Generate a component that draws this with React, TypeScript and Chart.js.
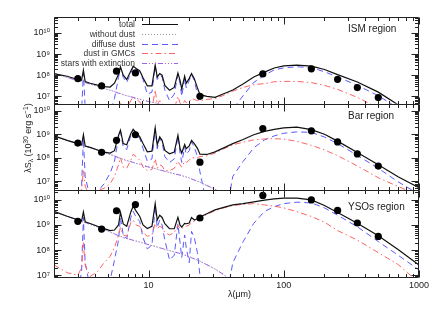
import React, { useEffect, useRef } from 'react';
import { Chart, registerables } from 'chart.js';

Chart.register(...registerables);

// wavelength grid (micron)
const LAMBDA = [2, 2.5, 3, 3.2, 3.3, 3.4, 3.7, 4.2, 4.7, 5.2, 5.6, 6.0, 6.2, 6.5, 6.9, 7.4, 7.7, 8.1, 8.6, 9.1, 9.8, 10.6, 11.2, 11.6, 12.1, 12.6, 13.2, 14.3, 15.5, 16.5, 17.1, 17.6, 18.5, 19.0, 20.0, 20.8, 21.8, 23, 24, 27, 31, 36, 42, 50, 60, 72, 85, 100, 125, 160, 200, 250, 350, 500, 700, 1000];
const OBS_LAMBDA = [3.0, 4.5, 5.8, 8.0, 24, 70, 160, 250, 350, 500];

// ISM region
const ISM_TOTAL = [
  1.2e8, 8.9e7, 6.3e7, 5.75e7, 1.74e8, 5.0e7, 4.17e7,
  3.39e7, 2.88e7, 2.75e7, 4.17e7, 1.12e8, 2.51e8, 1.0e8, 6.3e7,
  1.58e8, 2.69e8, 2.09e8, 1.66e8, 7.6e7, 3.16e7, 3.16e7,
  3.02e8, 8.3e7, 1.2e8, 1.0e8, 3.31e7, 1.95e7, 2.63e7,
  1.26e8, 5.75e7, 2.24e7, 8.9e7, 4.17e7, 7.1e7, 1.2e8,
  6.9e7, 2.51e7, 1.2e7, 1.0e7, 8.9e6, 1.32e7, 2.0e7,
  3.8e7, 8.3e7, 1.4e8, 2.2e8, 2.75e8, 3.02e8, 2.69e8,
  1.86e8, 1.07e8, 4.8e7, 1.58e7, 4.0e6, 7.9e5,
];
const ISM_DIFFUSE = [
  1e5, 1e5, 3.2e5, 2.0e6, 1.26e8, 3.2e6, 3.2e5,
  3.2e5, 6.3e5, 2.0e6, 7.9e6, 7.9e7, 2.34e8, 7.9e7, 4.5e7,
  1.26e8, 2.51e8, 1.91e8, 1.51e8, 6.3e7, 1.26e7, 1.58e7,
  2.82e8, 6.3e7, 1.0e8, 8.3e7, 2.0e7, 6.3e6, 1.26e7,
  1.12e8, 4.0e7, 1.0e7, 7.1e7, 2.51e7, 5.6e7, 1.07e8,
  5.6e7, 1.26e7, 3.2e6, 3.2e5, 1e5, 1e5, 2.5e6,
  1.07e7, 4.57e7, 1.0e8, 1.78e8, 2.24e8, 2.51e8, 2.29e8,
  1.45e8, 8.3e7, 3.31e7, 1.07e7, 2.8e6, 5.0e5,
];
const ISM_GMC = [
  1e5, 1e5, 1e5, 3.2e5, 2.0e6, 3.2e5, 1e5,
  1e5, 1.6e5, 3.2e5, 7.9e5, 2.0e6, 5.0e6, 2.5e6, 2.5e6,
  6.3e6, 9.3e6, 7.1e6, 5.6e6, 3.2e6, 2.0e6, 2.5e6,
  2.0e7, 4.0e6, 6.3e6, 5.0e6, 2.5e6, 2.0e6, 2.5e6,
  1.0e7, 5.0e6, 3.2e6, 6.3e6, 5.0e6, 5.6e6, 7.9e6,
  7.1e6, 6.3e6, 6.3e6, 7.1e6, 7.9e6, 1.12e7, 1.78e7,
  2.63e7, 3.55e7, 4.0e7, 4.9e7, 5.1e7, 5.1e7, 4.47e7,
  3.31e7, 2.14e7, 8.9e6, 2.8e6, 7.9e5, 2.0e5,
];
const ISM_STARS = [
  1.2e8, 7.8e7, 5.6e7, 4.9e7, 4.7e7, 4.5e7, 3.8e7,
  2.95e7, 2.34e7, 1.95e7, 1.7e7, 1.41e7, 1.35e7, 1.2e7, 1.07e7,
  9.5e6, 8.9e6, 8.1e6, 7.4e6, 6.6e6, 5.9e6, 5.2e6,
  4.9e6, 4.6e6, 4.3e6, 4.1e6, 3.7e6, 3.3e6, 2.95e6,
  2.7e6, 2.5e6, 2.4e6, 2.2e6, 2.1e6, 1.9e6, 1.78e6,
  1.62e6, 1.45e6, 1.32e6, 9.5e5, 6.3e5, 4.0e5, 2.2e5,
];
const ISM_OBS = [6.9e7, 3.1e7, 1.55e8, 1.29e8, 1.0e7, 1.15e8, 2.0e8, 6.4e7, 2.6e7, 8.7e6];

// Bar region
const BAR_TOTAL = [
  8.5e8, 5.5e8, 4.0e8, 3.47e8, 9.5e8, 3.16e8, 2.75e8,
  2.14e8, 1.74e8, 1.58e8, 2.0e8, 8.9e8, 1.48e9, 4.0e8, 3.55e8,
  1.07e9, 1.62e9, 1.17e9, 7.9e8, 4.0e8, 1.78e8, 1.9e8,
  1.86e9, 3.55e8, 7.8e8, 5.5e8, 2.04e8, 1.48e8, 1.74e8,
  9.1e8, 2.51e8, 1.58e8, 3.63e8, 2.4e8, 3.16e8, 5.5e8,
  4.0e8, 2.51e8, 1.41e8, 1.38e8, 1.78e8, 2.63e8, 4.0e8,
  6.0e8, 9.5e8, 1.32e9, 1.62e9, 1.86e9, 2.0e9, 1.58e9,
  1.0e9, 5.1e8, 1.66e8, 5.0e7, 1.55e7, 5.3e6,
];
const BAR_DIFFUSE = [
  1e5, 1e5, 3.2e5, 6.3e6, 6.3e8, 1.58e7, 2.0e6,
  3.55e6, 7.9e6, 2.19e7, 7.1e7, 7.1e8, 1.32e9, 2.82e8, 2.24e8,
  8.9e8, 1.48e9, 1.05e9, 6.8e8, 2.51e8, 7.1e7, 8.9e7,
  1.74e9, 2.4e8, 6.6e8, 4.47e8, 1.12e8, 6.3e7, 8.9e7,
  8.3e8, 1.58e8, 6.3e7, 2.82e8, 1.41e8, 2.0e8, 4.8e8,
  2.82e8, 1.12e8, 2.51e7, 1e6, 1e5, 1e5, 1.62e7,
  6.9e7, 2.63e8, 5.75e8, 8.5e8, 1.1e9, 1.26e9, 1.2e9,
  7.6e8, 4.0e8, 1.26e8, 3.55e7, 9.5e6, 2.8e6,
];
const BAR_GMC = [
  3.2e5, 3.2e5, 6.3e5, 4.0e6, 3.16e7, 6.3e6, 2.0e6,
  4.0e6, 5.0e6, 7.9e6, 1.58e7, 5.0e7, 1.0e8, 4.0e7, 3.55e7,
  7.9e7, 1.41e8, 1.12e8, 7.9e7, 4.0e7, 2.82e7, 3.16e7,
  8.9e7, 3.55e7, 5.0e7, 4.47e7, 2.82e7, 2.82e7, 3.55e7,
  7.1e7, 5.0e7, 4.0e7, 7.1e7, 6.3e7, 7.9e7, 1.0e8,
  1.0e8, 1.0e8, 1.12e8, 1.2e8, 1.58e8, 2.4e8, 3.55e8,
  4.57e8, 5.75e8, 6.3e8, 6.5e8, 6.2e8, 5.0e8, 3.39e8,
  2.14e8, 1.23e8, 4.47e7, 1.41e7, 6.0e6, 2.5e6,
];
const BAR_STARS = [
  8.5e8, 5.5e8, 4.0e8, 3.47e8, 3.31e8, 3.16e8, 2.69e8,
  2.09e8, 1.66e8, 1.38e8, 1.2e8, 1.0e8, 9.5e7, 8.5e7, 7.6e7,
  6.8e7, 6.3e7, 5.75e7, 5.25e7, 4.68e7, 4.17e7, 3.72e7,
  3.47e7, 3.24e7, 3.02e7, 2.88e7, 2.63e7, 2.34e7, 2.09e7,
  1.91e7, 1.82e7, 1.74e7, 1.58e7, 1.51e7, 1.38e7, 1.26e7,
  1.12e7, 1.0e7, 9.1e6, 6.6e6, 4.57e6, 2.82e6, 1.58e6,
];
const BAR_OBS = [4.2e8, 1.7e8, 5.5e8, 9.5e8, 6.5e7, 1.74e9, 1.4e9, 4.7e8, 1.45e8, 4.4e7];

// YSOs region
const YSO_TOTAL = [
  3.47e9, 2.24e9, 1.62e9, 1.45e9, 3.31e9, 1.35e9, 1.15e9,
  8.9e8, 7.2e8, 6.0e8, 6.3e8, 1.0e9, 3.16e9, 1.1e9, 8.9e8,
  3.31e9, 5.6e9, 3.55e9, 2.24e9, 1.0e9, 7.2e8, 8.9e8,
  7.1e9, 1.58e9, 2.45e9, 2.0e9, 1.12e9, 7.2e8, 7.1e8,
  2.0e9, 9.8e8, 8.3e8, 1.15e9, 1.12e9, 1.2e9, 2.0e9,
  1.58e9, 1.78e9, 2.09e9, 2.82e9, 4.0e9, 5.0e9, 6.3e9,
  7.1e9, 8.3e9, 9.8e9, 1.1e10, 1.17e10, 1.17e10, 1.0e10,
  6.0e9, 3.16e9, 1.17e9, 3.72e8, 1.05e8, 2.57e7,
];
const YSO_DIFFUSE = [
  1e5, 1e5, 1e6, 1.58e7, 2.0e9, 3.16e7, 3.16e6,
  3.2e5, 1e6, 6.3e6, 4.0e7, 2.51e8, 2.0e9, 4.0e8, 2.82e8,
  2.0e9, 3.55e9, 2.0e9, 1.41e9, 3.16e8, 1.12e8, 1.58e8,
  5.6e9, 7.9e8, 1.58e9, 1.0e9, 2.51e8, 4.0e7, 6.3e7,
  1.12e9, 2.0e8, 5.0e7, 4.0e8, 1.26e8, 3.16e7, 5.6e8,
  3.16e8, 7.9e7, 1.0e7, 1.0e6, 3.2e5, 3.2e5, 3.16e7,
  2.14e8, 1.17e9, 3.47e9, 5.4e9, 7.1e9, 8.1e9, 7.6e9,
  4.8e9, 2.45e9, 8.5e8, 2.19e8, 6.3e7, 1.62e7,
];
const YSO_GMC = [
  2.57e7, 1.26e7, 1.0e7, 2.0e7, 2.0e8, 2.51e7, 8.9e6,
  1.41e7, 3.16e7, 5.6e7, 1.26e8, 4.0e8, 7.9e8, 4.0e8, 3.55e8,
  1.26e9, 1.58e9, 1.0e9, 8.9e8, 5.0e8, 3.55e8, 4.0e8,
  1.15e9, 7.1e8, 8.9e8, 7.9e8, 5.0e8, 4.0e8, 5.0e8,
  9.8e8, 7.1e8, 7.1e8, 8.9e8, 8.9e8, 1.0e9, 1.26e9,
  1.41e9, 1.66e9, 1.91e9, 2.63e9, 3.72e9, 4.8e9, 6.0e9,
  6.6e9, 7.1e9, 6.3e9, 5.6e9, 4.8e9, 3.39e9, 2.19e9,
  1.29e9, 6.0e8, 2.51e8, 7.9e7, 2.69e7, 5.0e6,
];
const YSO_STARS = [
  3.39e9, 2.19e9, 1.58e9, 1.38e9, 1.32e9, 1.26e9, 1.07e9,
  8.3e8, 6.6e8, 5.25e8, 4.47e8, 3.72e8, 3.55e8, 3.16e8, 2.88e8,
  2.63e8, 2.45e8, 2.29e8, 2.09e8, 1.91e8, 1.7e8, 1.51e8,
  1.41e8, 1.32e8, 1.23e8, 1.17e8, 1.07e8, 9.5e7, 8.5e7,
  7.8e7, 7.2e7, 6.9e7, 6.3e7, 6.0e7, 5.5e7, 5.0e7,
  4.47e7, 4.0e7, 3.63e7, 2.63e7, 1.78e7, 1.05e7, 5.6e6,
];
const YSO_OBS = [1.4e9, 6.9e8, 3.7e9, 6.5e9, 1.9e9, 1.5e10, 1.0e10, 3.8e9, 1.2e9, 3.5e8];

const PANELS = [
  { axis: 'yTop', label: 'ISM region', labelDy: 12, weight: 3, min: 4.5e6, max: 5.7e10, total: ISM_TOTAL, diffuse: ISM_DIFFUSE, gmc: ISM_GMC, stars: ISM_STARS, obs: ISM_OBS },
  { axis: 'yMid', label: 'Bar region', labelDy: 13, weight: 2, min: 4.1e6, max: 2.0e10, total: BAR_TOTAL, diffuse: BAR_DIFFUSE, gmc: BAR_GMC, stars: BAR_STARS, obs: BAR_OBS },
  { axis: 'yBot', label: 'YSOs region', labelDy: 17, weight: 1, min: 8.5e6, max: 2.4e10, total: YSO_TOTAL, diffuse: YSO_DIFFUSE, gmc: YSO_GMC, stars: YSO_STARS, obs: YSO_OBS },
];

const FONT = "'Liberation Sans', 'DejaVu Sans', sans-serif";

const STYLES: Record<string, { borderColor: string; borderWidth: number; borderDash: number[] }> = {
  total: { borderColor: '#111111', borderWidth: 1.2, borderDash: [] },
  nodust: { borderColor: '#999999', borderWidth: 1, borderDash: [1, 2] },
  diffuse: { borderColor: 'rgb(90,90,255)', borderWidth: 1, borderDash: [6, 4] },
  gmc: { borderColor: 'rgb(255,100,100)', borderWidth: 1, borderDash: [6, 3, 1.5, 3] },
  stars: { borderColor: 'rgb(160,100,235)', borderWidth: 1, borderDash: [5, 2, 1, 2, 1, 2, 1, 2] },
};

const LEGEND = [
  { text: 'total', key: 'total' },
  { text: 'without dust', key: 'nodust' },
  { text: 'diffuse dust', key: 'diffuse' },
  { text: 'dust in GMCs', key: 'gmc' },
  { text: 'stars with extinction', key: 'stars' },
];

const SUP: Record<string, string> = { '0': '⁰', '1': '¹', '2': '²', '3': '³', '4': '⁴', '5': '⁵', '6': '⁶', '7': '⁷', '8': '⁸', '9': '⁹', '-': '⁻' };
const sup = (n: number) => String(n).split('').map((c) => SUP[c] || c).join('');
const decade = (v: number) => {
  const e = Math.log10(v);
  return Math.abs(e - Math.round(e)) < 1e-6 ? Math.round(e) : null;
};

const pts = (ys: number[]) => ys.map((y, i) => ({ x: LAMBDA[i], y }));
const obsPts = (ys: number[]) => ys.map((y, i) => ({ x: OBS_LAMBDA[i], y }));

const lineDs = (label: string, data: any[], axis: string, key: string) => ({
  label,
  data,
  yAxisID: axis,
  borderColor: STYLES[key].borderColor,
  borderWidth: STYLES[key].borderWidth,
  borderDash: STYLES[key].borderDash,
  pointRadius: 0,
  fill: false,
  tension: 0,
});

const decorPlugin = {
  id: 'decor',
  afterDraw(chart: any) {
    const ctx = chart.ctx as CanvasRenderingContext2D;
    const { left, right } = chart.chartArea;
    const xs = chart.scales.x;
    ctx.save();
    ctx.strokeStyle = '#222';
    ctx.lineWidth = 1;
    ctx.setLineDash([]);
    const l = Math.round(left) + 0.5;
    const r = Math.round(right) - 0.5;
    for (const p of PANELS) {
      const ys = chart.scales[p.axis];
      const t = Math.round(ys.top) + 0.5;
      const b = Math.round(ys.bottom) + 0.5;
      ctx.beginPath();
      ctx.rect(l, t, r - l, b - t);
      const e0 = Math.floor(Math.log10(ys.min));
      const e1 = Math.ceil(Math.log10(ys.max));
      for (let e = e0; e <= e1; e++) {
        for (let m = 1; m <= 9; m++) {
          const v = m * Math.pow(10, e);
          if (v < ys.min || v > ys.max) continue;
          const y = Math.round(ys.getPixelForValue(v)) + 0.5;
          const len = m === 1 ? 7 : 3.5;
          ctx.moveTo(l, y);
          ctx.lineTo(l + len, y);
          ctx.moveTo(r, y);
          ctx.lineTo(r - len, y);
        }
      }
      for (let e = 0; e <= 3; e++) {
        for (let m = 1; m <= 9; m++) {
          const v = m * Math.pow(10, e);
          if (v < xs.min || v > xs.max) continue;
          const x = Math.round(xs.getPixelForValue(v)) + 0.5;
          const len = m === 1 ? 7 : 3.5;
          ctx.moveTo(x, t);
          ctx.lineTo(x, t + len);
          ctx.moveTo(x, b);
          ctx.lineTo(x, b - len);
        }
      }
      ctx.stroke();
      ctx.fillStyle = '#222';
      ctx.font = `10px ${FONT}`;
      ctx.textAlign = 'left';
      ctx.textBaseline = 'middle';
      ctx.fillText(p.label, right - 71, ys.top + p.labelDy);
    }

    // legend in the top panel
    const yTop = chart.scales[PANELS[0].axis].top;
    ctx.font = `8.5px ${FONT}`;
    ctx.textAlign = 'right';
    ctx.textBaseline = 'middle';
    LEGEND.forEach((it, i) => {
      const y = Math.round(yTop + 7 + i * 9.75) + 0.5;
      const st = STYLES[it.key];
      ctx.fillStyle = '#333';
      ctx.fillText(it.text, left + 81, y);
      ctx.beginPath();
      ctx.setLineDash(st.borderDash);
      ctx.strokeStyle = st.borderColor;
      ctx.lineWidth = st.borderWidth;
      ctx.moveTo(left + 88, y);
      ctx.lineTo(left + 124, y);
      ctx.stroke();
    });
    ctx.setLineDash([]);

    // x title
    ctx.fillStyle = '#222';
    ctx.font = `9px ${FONT}`;
    ctx.textAlign = 'center';
    ctx.textBaseline = 'middle';
    ctx.fillText('λ(μm)', (left + right) / 2 + 3, 295);

    // y title (rotated, with sub/superscripts)
    const parts: [string, number, number][] = [
      ['λS', 9, 0],
      ['λ', 6.5, 2],
      [' (10', 9, 0],
      ['30', 6.5, -3.5],
      [' erg s', 9, 0],
      ['−1', 6.5, -3.5],
      [')', 9, 0],
    ];
    ctx.save();
    ctx.translate(31, 138);
    ctx.rotate(-Math.PI / 2);
    ctx.textAlign = 'left';
    ctx.textBaseline = 'alphabetic';
    let w = 0;
    parts.forEach(([t, s]) => {
      ctx.font = `${s}px ${FONT}`;
      w += ctx.measureText(t).width;
    });
    let x = -w / 2;
    parts.forEach(([t, s, dy]) => {
      ctx.font = `${s}px ${FONT}`;
      ctx.fillText(t, x, dy);
      x += ctx.measureText(t).width;
    });
    ctx.restore();
    ctx.restore();
  },
};

export default function App() {
  const ref = useRef<HTMLCanvasElement>(null);
  useEffect(() => {
    document.body.style.margin = '0';
    const canvas = ref.current;
    if (!canvas) return;

    const datasets: any[] = [];
    PANELS.forEach((p) => {
      datasets.push({
        label: 'observed',
        data: obsPts(p.obs),
        yAxisID: p.axis,
        showLine: false,
        pointRadius: 3.6,
        pointBackgroundColor: '#000',
        pointBorderWidth: 0,
        borderColor: '#000',
      });
      datasets.push(lineDs('total', pts(p.total), p.axis, 'total'));
      datasets.push(lineDs('stars with extinction', pts(p.stars), p.axis, 'stars'));
      datasets.push(lineDs('without dust', pts(p.stars), p.axis, 'nodust'));
      datasets.push(lineDs('dust in GMCs', pts(p.gmc), p.axis, 'gmc'));
      datasets.push(lineDs('diffuse dust', pts(p.diffuse), p.axis, 'diffuse'));
    });

    const scales: any = {
      x: {
        type: 'logarithmic',
        min: 2,
        max: 1000,
        grid: { display: false, drawTicks: false },
        border: { display: false },
        ticks: {
          autoSkip: false,
          maxRotation: 0,
          padding: 3,
          color: '#222',
          font: { family: FONT, size: 9 },
          callback: (v: any) => {
            const e = decade(Number(v));
            return e !== null && e >= 1 ? String(Math.pow(10, e)) : '';
          },
        },
        afterFit: (s: any) => {
          s.height = 35;
        },
      },
    };
    PANELS.forEach((p) => {
      scales[p.axis] = {
        type: 'logarithmic',
        position: 'left',
        stack: 'panels',
        stackWeight: 1,
        weight: p.weight,
        min: p.min,
        max: p.max,
        clip: true,
        grid: { display: false, drawTicks: false },
        border: { display: false },
        ticks: {
          autoSkip: false,
          padding: 4,
          color: '#222',
          font: { family: FONT, size: 9 },
          callback: (v: any) => {
            const e = decade(Number(v));
            return e !== null ? '10' + sup(e) : '';
          },
        },
        afterFit: (s: any) => {
          s.width = 54;
        },
      };
    });

    const chart = new Chart(canvas, {
      type: 'line',
      data: { datasets },
      options: {
        animation: false,
        responsive: false,
        devicePixelRatio: 1,
        layout: { padding: { top: 17, right: 17, left: 0, bottom: 0 } },
        plugins: { legend: { display: false }, tooltip: { enabled: false } },
        scales,
      } as any,
      plugins: [decorPlugin],
    });
    return () => chart.destroy();
  }, []);

  return <canvas ref={ref} width={436} height={312} style={{ display: 'block' }} />;
}
